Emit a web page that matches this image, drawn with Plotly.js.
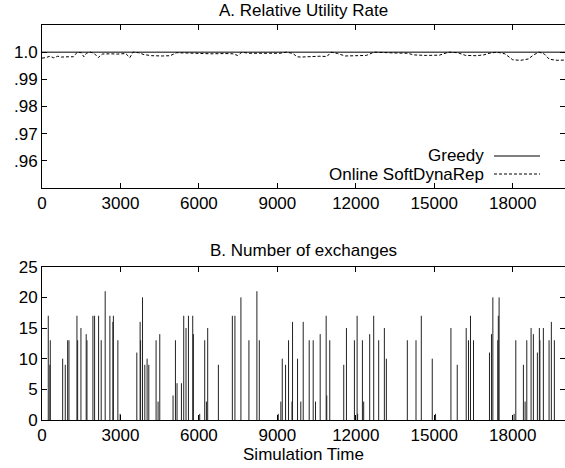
<!DOCTYPE html>
<html>
<head>
<meta charset="utf-8">
<script src="https://cdn.plot.ly/plotly-3.0.1.min.js"></script>
<style>html,body{margin:0;padding:0;background:#fff;}#chart{width:565px;height:468px;}</style>
</head>
<body>
<div id="chart"></div>
<script>
// ---- Panel A data ----
const greedyX = [0, 20000];
const greedyY = [1.0, 1.0];
const onlineX = [0,150,300,450,600,750,1000,1200,1350,1500,1600,1700,1850,2000,2150,2300,2600,2900,3200,3360,3480,3700,3900,4200,4600,4900,5150,5600,6000,6500,7000,7300,7480,7650,7900,8300,8700,9100,9350,9600,9750,9900,10200,10600,10900,11050,11300,11600,12000,12400,12700,13000,13500,14000,14200,14700,15200,15550,15900,16200,16600,16900,17100,17400,17700,18000,18300,18600,18800,19000,19200,19400,19700,20000];
const onlineY = [0.9978,0.9980,0.9985,0.9979,0.9985,0.9982,0.9983,0.9983,1.0000,0.9998,0.9983,0.9996,1.0000,0.9995,0.9980,0.9993,0.9994,0.9993,0.9995,0.9980,1.0000,0.9998,0.9991,0.9987,0.9986,0.9987,0.9998,0.9996,0.9995,0.9994,0.9995,0.9994,0.9988,1.0000,0.9996,0.9997,0.9996,0.9996,1.0000,0.9995,0.9983,0.9982,0.9984,0.9985,0.9984,1.0000,0.9995,0.9986,0.9987,0.9988,1.0000,0.9998,0.9997,0.9996,0.9990,0.9988,0.9989,1.0000,0.9998,0.9988,0.9987,0.9990,0.9996,1.0000,0.9994,0.9972,0.9970,0.9975,0.9990,1.0000,0.9994,0.9974,0.9970,0.9971];
const utilTickVals = [0.96, 0.97, 0.98, 0.99, 1.0];
const utilTickText = ['.96', '.97', '.98', '.99', '1.0'];

// ---- Panel B data ----
const exchX = [240,300,317,790,889,981,1031,1336,1363,1489,1690,1720,1947,2011,2164,2264,2416,2596,2710,2730,2901,2989,
  3626,3752,3770,3844,3932,4019,4084,4363,4439,4504,5012,5103,5164,5332,5420,5508,5600,5764,5790,6031,6222,6287,6336,
  6745,7279,7378,7607,7913,8218,8310,9035,9134,9188,9314,9428,9560,9581,9772,9897,
  9989,10218,10371,10459,10638,10867,10890,11004,11539,11642,11947,12050,12070,12253,12302,12531,12684,12875,13092,13169,
  13970,14302,14505,14924,15050,15638,15879,16222,16310,16386,16501,
  17112,17188,17241,17430,17450,17480,18054,18119,18409,18474,18539,18703,18791,18944,19020,19040,19173,19391,19478,19593];
const exchY = [17,9,13,10,9,13,13,17,13,15,14,13,17,17,17,13,21,17,16,17,13,1,
  11,16,13,20,9,10,9,13,3,14,4,13,6,6,17,15,17,17,14,1,13,3,15,
  9,17,17,20,13,21,13,1,3,10,9,13,3,16,10,3,
  16,13,13,3,14,17,4,13,9,15,13,17,1,13,3,14,17,13,15,10,
  13,13,17,10,1,15,9,15,13,17,13,
  11,14,20,13,17,20,1,13,9,3,13,15,14,11,15,13,15,13,16,13];
const xTickVals = [0, 3000, 6000, 9000, 12000, 15000, 18000];
const xTickText = ['0', '3000', '6000', '9000', '12000', '15000', '18000'];
const exchTickVals = [0, 5, 10, 15, 20, 25];

// impulses built from the data arrays
const impX = [], impY = [];
for (let i = 0; i < exchX.length; i++) {
  impX.push(exchX[i], exchX[i], null);
  impY.push(0, exchY[i], null);
}

const FONT = 'Liberation Sans, Arial, Helvetica, sans-serif';
const FS = 17;
const H = 468;
const py = p => 1 - p / H;
const px = p => (p - 42) / 523;

const axisCommon = {
  showline: true, linecolor: '#000', linewidth: 1, mirror: 'ticks',
  ticks: 'inside', ticklen: 5, tickcolor: '#000', tickwidth: 1,
  showgrid: false, zeroline: false, automargin: false,
  tickfont: {family: FONT, size: FS, color: '#000'}
};

const traces = [
  {x: greedyX, y: greedyY, xaxis: 'x', yaxis: 'y', mode: 'lines', line: {color: '#000', width: 1}, showlegend: false, hoverinfo: 'skip'},
  {x: onlineX, y: onlineY, xaxis: 'x', yaxis: 'y', mode: 'lines', line: {color: '#000', width: 1, dash: '3px,2px'}, showlegend: false, hoverinfo: 'skip'},
  {x: impX, y: impY, xaxis: 'x2', yaxis: 'y2', mode: 'lines', line: {color: '#222', width: 1}, showlegend: false, hoverinfo: 'skip', connectgaps: false}
];

const layout = {
  width: 565, height: 468,
  margin: {l: 42, r: 0, t: 0, b: 0},
  paper_bgcolor: '#fff', plot_bgcolor: '#fff',
  showlegend: false,
  font: {family: FONT, size: FS, color: '#000'},
  xaxis: Object.assign({}, axisCommon, {anchor: 'y', domain: [0, 1], range: [0, 20000], tickvals: xTickVals, ticktext: xTickText}),
  yaxis: Object.assign({}, axisCommon, {anchor: 'x', domain: [py(188), py(25)], range: [0.95, 1.01], tickvals: utilTickVals, ticktext: utilTickText}),
  xaxis2: Object.assign({}, axisCommon, {anchor: 'y2', domain: [0, 1], range: [0, 20000], tickvals: xTickVals, ticktext: xTickText,
    title: {text: 'Simulation Time', standoff: 0, font: {family: FONT, size: FS, color: '#000'}}}),
  yaxis2: Object.assign({}, axisCommon, {anchor: 'x2', domain: [py(420), py(266.7)], range: [0, 25], tickvals: exchTickVals}),
  annotations: [
    {text: 'A. Relative Utility Rate', xref: 'paper', yref: 'paper', x: 0.5, y: py(10), xanchor: 'center', yanchor: 'middle', showarrow: false, font: {family: FONT, size: FS, color: '#000'}},
    {text: 'B. Number of exchanges', xref: 'paper', yref: 'paper', x: 0.5, y: py(250), xanchor: 'center', yanchor: 'middle', showarrow: false, font: {family: FONT, size: FS, color: '#000'}},
    {text: 'Greedy', xref: 'paper', yref: 'paper', x: px(486), y: py(156), xanchor: 'right', yanchor: 'middle', showarrow: false, font: {family: FONT, size: FS, color: '#000'}},
    {text: 'Online SoftDynaRep', xref: 'paper', yref: 'paper', x: px(486), y: py(174), xanchor: 'right', yanchor: 'middle', showarrow: false, font: {family: FONT, size: FS, color: '#000'}}
  ],
  shapes: [
    {type: 'line', xref: 'paper', yref: 'paper', x0: px(494), x1: px(540), y0: py(156), y1: py(156), line: {color: '#000', width: 1}},
    {type: 'line', xref: 'paper', yref: 'paper', x0: px(494), x1: px(540), y0: py(174), y1: py(174), line: {color: '#000', width: 1, dash: '3px,2px'}}
  ]
};

Plotly.newPlot('chart', traces, layout, {staticPlot: true, displayModeBar: false});
</script>
</body>
</html>
